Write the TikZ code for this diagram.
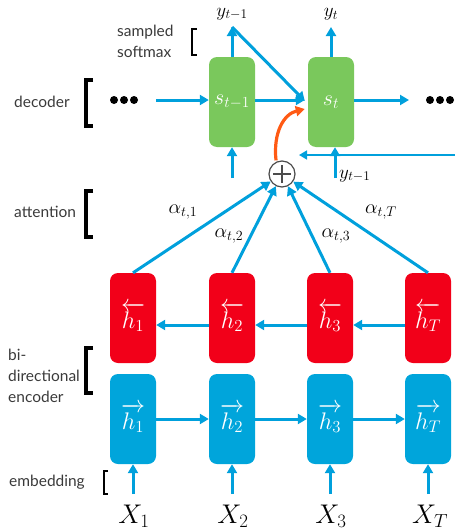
\RequirePackage{fix-cm}
\documentclass[tikz,border=0pt]{standalone}
\usepackage[no-math]{fontspec}
\usepackage{amsmath}
\newfontfamily\lab{Lato}
\usetikzlibrary{arrows.meta}
\definecolor{dgreen}{HTML}{7AC85C}
\definecolor{ered}{HTML}{F20019}
\definecolor{eblue}{HTML}{00A5DB}
\definecolor{ablue}{HTML}{00A0DC}
\definecolor{aorange}{HTML}{FF5A14}
\definecolor{labgray}{HTML}{3A3A3A}
\tikzset{
  cell/.style={rectangle, rounded corners=8pt, minimum width=46pt, minimum height=90pt,
    text=white, inner sep=0pt},
  dec/.style={cell, fill=dgreen, font=\fontsize{22}{24}\selectfont},
  bwd/.style={cell, fill=ered, font=\fontsize{24}{26}\selectfont},
  fwd/.style={cell, fill=eblue, font=\fontsize{24}{26}\selectfont},
  arr/.style={draw=ablue, line width=3pt, -{Triangle[length=9pt,width=10pt]}},
  thinarr/.style={draw=ablue, line width=1.7pt, -{Triangle[length=8pt,width=9pt]}},
  oarr/.style={draw=aorange, line width=3.2pt, -{Triangle[length=9pt,width=10pt]}},
  lbl/.style={font=\lab\fontsize{15.5}{21}\selectfont, text=labgray, align=left, inner sep=0pt},
  mlab/.style={font=\fontsize{19}{21}\selectfont, inner sep=1pt},
  alab/.style={font=\fontsize{20}{22}\selectfont, inner sep=1pt},
  xlab/.style={font=\fontsize{27}{29}\selectfont, inner sep=0pt},
  brk/.style={draw=black, line width=3.5pt},
  dots/.style={minimum width=32pt, minimum height=10pt, inner sep=0pt,
    path picture={\fill (path picture bounding box.center) circle (4pt)
      ++(-10pt,0) circle (4pt) ++(20pt,0) circle (4pt);}},
}
\begin{document}
\begin{tikzpicture}[x=1pt,y=-1pt]
\useasboundingbox (0,0) rectangle (455,530);

% decoder cells
\node[dec] (s1) at (232,102) {$s_{t-1}$};
\node[dec] (s2) at (331,102) {$s_t$};
% backward cells
\node[bwd] (r1) at (133,318) {\raisebox{5pt}{$\overleftarrow{h_1}$}};
\node[bwd] (r2) at (232,318) {\raisebox{5pt}{$\overleftarrow{h_2}$}};
\node[bwd] (r3) at (330,318) {\raisebox{5pt}{$\overleftarrow{h_3}$}};
\node[bwd] (r4) at (428,318) {\raisebox{5pt}{$\overleftarrow{h_T}$}};
% forward cells
\node[fwd] (b1) at (133,419) {\raisebox{5pt}{$\overrightarrow{h_1}$}};
\node[fwd] (b2) at (232,419) {\raisebox{5pt}{$\overrightarrow{h_2}$}};
\node[fwd] (b3) at (330,419) {\raisebox{5pt}{$\overrightarrow{h_3}$}};
\node[fwd] (b4) at (428,419) {\raisebox{5pt}{$\overrightarrow{h_T}$}};

% sum node
\node[circle, draw=black!70, line width=1.2pt, fill=white, minimum size=26pt, inner sep=0pt] (plus) at (282,174) {};
\draw[black!70, line width=1.2pt] ([xshift=-9pt]plus.center) -- ([xshift=9pt]plus.center)
  ([yshift=-9pt]plus.center) -- ([yshift=9pt]plus.center);

% outputs
\node[mlab] (y1) at (232,14) {$y_{t-1}$};
\node[mlab] (y2) at (331,14) {$y_t$};
\coordinate (top1) at (232,27);
\coordinate (top2) at (331,27);
\draw[arr] (s1.north) -- (top1);
\draw[arr] (s2.north) -- (top2);
\draw[arr] (top1) -- ([xshift=-3pt,yshift=1pt]s2.west);

% decoder chain
\node[dots] (dl) at (124,100) {};
\node[dots] (dr) at (440,100) {};
\coordinate (dlin) at (156,100);
\coordinate (drout) at (409,100);
\draw[arr] (dlin) -- ([yshift=2pt]s1.west);
\draw[arr] ([yshift=2pt]s1.east) -- ([xshift=-3pt,yshift=2pt]s2.west);
\draw[arr] ([yshift=2pt]s2.east) -- (drout);

% decoder inputs
\coordinate (in1) at (232,178);
\coordinate (in2) at (335,178);
\draw[arr] (in1) -- (s1.south);
\draw[arr] (in2) -- ([xshift=4pt]s2.south);
\node[mlab, anchor=west] (yin) at (338,176) {$y_{t-1}$};
\coordinate (fb) at (455,155);
\coordinate (fbend) at (299,155);
\draw[thinarr] (fb) -- (fbend);

% context to decoder
\draw[oarr] ([xshift=-6pt]plus.north) .. controls (273,132) and (284,114) .. ([xshift=-3pt,yshift=-7pt]s2.west);

% attention
\draw[arr] (r1.north) -- (plus);
\draw[arr] (r2.north) -- (plus);
\draw[arr] (r3.north) -- (plus);
\draw[arr] (r4.north) -- (plus);
\node[alab] (a1) at (183,212) {$\alpha_{t,1}$};
\node[alab] (a2) at (229,236) {$\alpha_{t,2}$};
\node[alab] (a3) at (336,236) {$\alpha_{t,3}$};
\node[alab] (a4) at (381,212) {$\alpha_{t,T}$};

% backward chain
\draw[arr] ([yshift=-7pt]r2.west) -- ([yshift=-7pt]r1.east);
\draw[arr] ([yshift=-7pt]r3.west) -- ([yshift=-7pt]r2.east);
\draw[arr] ([yshift=-7pt]r4.west) -- ([yshift=-7pt]r3.east);
% forward chain
\draw[arr] (b1.east) -- (b2.west);
\draw[arr] (b2.east) -- (b3.west);
\draw[arr] (b3.east) -- (b4.west);

% inputs
\node[xlab] (x1) at (134,516) {$X_1$};
\node[xlab] (x2) at (233,516) {$X_2$};
\node[xlab] (x3) at (331,516) {$X_3$};
\node[xlab] (x4) at (430,516) {$X_T$};
\foreach \i/\xx in {1/133,2/232,3/330,4/428}{
  \coordinate (e\i) at (\xx,494);
  \draw[arr] (e\i) -- (b\i.south);
}

% left labels
\node[lbl, anchor=west] (l1) at (117,41) {sampled\\softmax};
\node[lbl, anchor=west] (l2) at (14,102) {decoder};
\node[lbl, anchor=west] (l3) at (14,212) {attention};
\node[lbl, anchor=west] (l4) at (8,376) {bi-\\directional\\encoder};
\node[lbl, anchor=west] (l5) at (9,482) {embedding};

% brackets
\draw[brk, line width=2.5pt] (197,29) -- (192,29) -- (192,55) -- (197,55);
\draw[brk] (93,80) -- (86,80) -- (86,126) -- (93,126);
\draw[brk] (93,191) -- (86,191) -- (86,237) -- (93,237);
\draw[brk] (93,348) -- (86,348) -- (86,393) -- (93,393);
\draw[brk, line width=2pt] (108,471) -- (104,471) -- (104,494) -- (108,494);
\end{tikzpicture}
\end{document}
